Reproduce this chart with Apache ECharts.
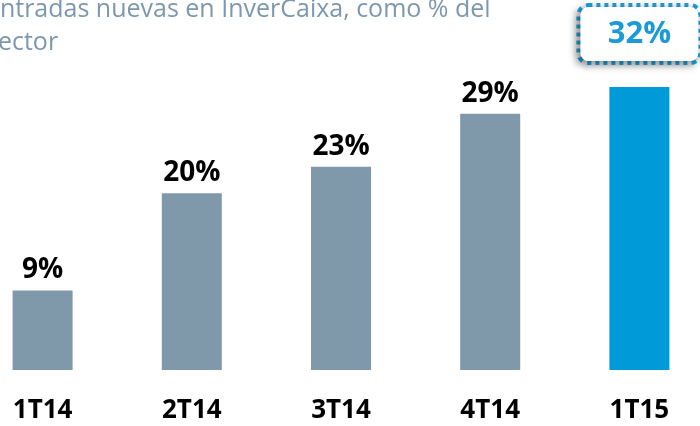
<!DOCTYPE html>
<html><head><meta charset="utf-8">
<script src="https://cdn.jsdelivr.net/npm/echarts@6/dist/echarts.min.js"></script>
<style>html,body{margin:0;padding:0;background:#fff}#c{width:700px;height:426px}</style>
</head><body><div id="c"></div>
<script>
const categories = ['1T14', '2T14', '3T14', '4T14', '1T15'];
const values = [9, 20, 23, 29, 32];
const titleText = 'Entradas nuevas en InverCaixa, como % del\nsector';

const chart = echarts.init(document.getElementById('c'));
const gray = '#7f99ab', blue = '#009ad8';
const data = values.map((v, i) => {
  const last = i === values.length - 1;
  return {
    value: v,
    itemStyle: { color: last ? blue : gray },
    label: last ? {
      color: '#1a9ad6', fontSize: 31, fontWeight: 'bold', fontFamily: 'Open Sans',
      backgroundColor: '#fff', borderColor: '#1a9ad6', borderWidth: 4,
      borderType: [4, 4], borderRadius: 8, padding: [10, 18], width: 82, align: 'center',
      lineHeight: 34, distance: 26,
      shadowColor: 'rgba(0,0,0,0.35)', shadowBlur: 6, shadowOffsetX: -3, shadowOffsetY: 3
    } : {}
  };
});
chart.setOption({
  animation: false,
  grid: { left: -32, width: 746, top: 16.4, height: 353.6, containLabel: false, outerBoundsMode: 'none' },
  xAxis: {
    type: 'category', data: categories,
    axisLine: { show: false }, axisTick: { show: false },
    axisLabel: { color: '#000', fontSize: 26, fontWeight: 'bold', fontFamily: 'Open Sans', margin: 28 }
  },
  yAxis: { type: 'value', min: 0, max: 40, show: false, splitLine: { show: false } },
  graphic: [{
    type: 'text', left: -14, top: -7,
    style: { text: titleText, fill: '#7d98ae', font: '25px "Open Sans"', lineHeight: 33 }
  }],
  series: [{
    type: 'bar', data: data, barWidth: 60,
    label: {
      show: true, position: 'top', formatter: '{c}%', color: '#000',
      fontSize: 28, fontWeight: 'bold', fontFamily: 'Open Sans', distance: 6
    }
  }]
});
</script></body></html>
